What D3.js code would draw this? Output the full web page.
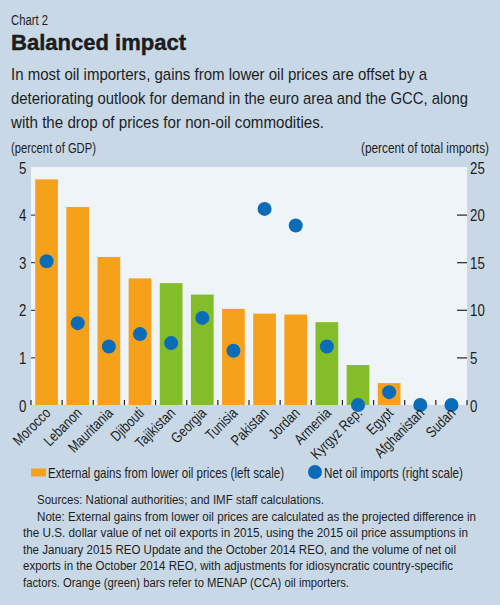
<!DOCTYPE html>
<html>
<head>
<meta charset="utf-8">
<script src="https://cdn.jsdelivr.net/npm/d3@7"></script>
<style>
  body { margin: 0; background: #c8d8e6; }
  svg { display: block; }
  text { font-family: "Liberation Sans", Arial, sans-serif; fill: #1e1e1e; }
</style>
</head>
<body>
<div id="chart"></div>
<script>
// Data
const countries = ["Morocco", "Lebanon", "Mauritania", "Djibouti", "Tajikistan", "Georgia", "Tunisia",
    "Pakistan", "Jordan", "Armenia", "Kyrgyz Rep.", "Egypt", "Afghanistan", "Sudan"];
const gains = [4.74, 4.16, 3.11, 2.66, 2.56, 2.32, 2.02, 1.92, 1.90, 1.74, 0.84, 0.46, 0, 0];
const netImports = [15.1, 8.6, 6.15, 7.45, 6.5, 9.15, 5.7, 20.6, 18.85, 6.15, 0, 1.35, 0, 0];
const region = ["MENAP", "MENAP", "MENAP", "MENAP", "CCA", "CCA", "MENAP",
    "MENAP", "MENAP", "CCA", "CCA", "MENAP", "MENAP", "MENAP"];
const leftTicks = [0, 1, 2, 3, 4, 5];
const rightTicks = [0, 5, 10, 15, 20, 25];

const subtitle = [
    "In most oil importers, gains from lower oil prices are offset by a",
    "deteriorating outlook for demand in the euro area and the GCC, along",
    "with the drop of prices for non-oil commodities."
];
const subtitleWidths = [416, 457, 313];
const notes = [
    "Sources: National authorities; and IMF staff calculations.",
    "Note: External  gains from lower oil prices are calculated as the projected difference in",
    "the U.S. dollar value of net oil exports in 2015, using the 2015 oil price assumptions in",
    "the January 2015 REO Update and the October 2014 REO, and the volume of net oil",
    "exports in the October 2014 REO, with adjustments for idiosyncratic country-specific",
    "factors. Orange (green) bars refer to MENAP (CCA) oil importers."
];
const noteWidths = [287, 439, 445, 433, 430, 326];

const W = 500, H = 605;
const margin = { top: 167, right: 33, bottom: 200, left: 31 };
const width = W - margin.left - margin.right,
    height = H - margin.top - margin.bottom;

// squeeze a text to a measured width, like the condensed face of the original
function fit(sel, len) {
    sel.attr("textLength", len).attr("lengthAdjust", "spacingAndGlyphs");
}

const svg = d3.select("#chart").append("svg")
    .attr("width", W)
    .attr("height", H);

svg.append("rect").attr("width", W).attr("height", H).attr("fill", "#c8d8e6");

// Header
svg.append("text").attr("x", 11).attr("y", 25)
    .style("font-size", "14px").text("Chart 2").call(fit, 37);
svg.append("text").attr("x", 11).attr("y", 50)
    .style("font-weight", "bold").style("font-size", "22.5px")
    .style("stroke", "#111").style("stroke-width", 0.4)
    .text("Balanced impact").call(fit, 175);
svg.append("g").selectAll("text")
    .data(subtitle).enter().append("text")
    .attr("x", 11).attr("y", (d, i) => 80 + i * 24)
    .style("font-size", "17px")
    .text(d => d)
    .each(function (d, i) { d3.select(this).call(fit, subtitleWidths[i]); });

svg.append("text").attr("x", 11).attr("y", 153)
    .style("font-size", "14px").text("(percent of GDP)").call(fit, 85);
svg.append("text").attr("x", 361).attr("y", 153)
    .style("font-size", "14px").text("(percent of total imports)").call(fit, 128);

const g = svg.append("g")
    .attr("transform", `translate(${margin.left},${margin.top})`);

g.append("rect").attr("width", width).attr("height", height).attr("fill", "#eff4f9");

const x = d3.scaleBand()
    .domain(countries)
    .range([0, width])
    .paddingInner(0.27)
    .paddingOuter(0.135);

const xEdges = d3.scaleLinear().domain([0, countries.length]).range([0, width]);

const y = d3.scaleLinear().domain([0, 5]).range([height, 0]);
const y2 = d3.scaleLinear().domain([0, 25]).range([height, 0]);

// Bars
g.selectAll(".bar")
    .data(countries)
    .enter().append("rect")
    .attr("class", "bar")
    .attr("x", d => x(d))
    .attr("y", (d, i) => y(gains[i]))
    .attr("width", x.bandwidth())
    .attr("height", (d, i) => height - y(gains[i]))
    .attr("fill", (d, i) => region[i] === "CCA" ? "#84bd2a" : "#f6a11b");

// Bottom category ticks
g.selectAll(".xtick")
    .data(d3.range(countries.length + 1))
    .enter().append("line")
    .attr("x1", d => xEdges(d)).attr("x2", d => xEdges(d))
    .attr("y1", height - 5).attr("y2", height)
    .attr("stroke", "#222").attr("stroke-width", 1.2);

// Dots
g.selectAll(".dot")
    .data(countries)
    .enter().append("circle")
    .attr("cx", d => x(d) + x.bandwidth() / 2)
    .attr("cy", (d, i) => y2(netImports[i]))
    .attr("r", 7)
    .attr("fill", "#0b6db7");

// Left axis
const leftAxis = g.append("g")
    .call(d3.axisLeft(y).tickValues(leftTicks).tickFormat(d3.format("d")).tickSize(-4).tickPadding(6));
leftAxis.select(".domain").remove();
leftAxis.selectAll(".tick line").attr("stroke", "#222");
leftAxis.selectAll(".tick text")
    .style("font-size", "17px").style("font-family", "Liberation Sans, sans-serif")
    .attr("fill", "#1e1e1e").attr("dy", "0.36em")
    .attr("transform", "scale(0.78,1)");
leftAxis.selectAll(".tick").filter(d => d === 0 || d === 5).select("line").remove();

// Right axis
const rightAxis = g.append("g")
    .attr("transform", `translate(${width},0)`)
    .call(d3.axisRight(y2).tickValues(rightTicks).tickSize(-10).tickPadding(4));
rightAxis.select(".domain").remove();
rightAxis.selectAll(".tick line").attr("stroke", "#222").attr("stroke-width", 1.2);
rightAxis.selectAll(".tick text")
    .style("font-size", "17px").style("font-family", "Liberation Sans, sans-serif")
    .attr("fill", "#1e1e1e").attr("dy", "0.36em")
    .attr("transform", "scale(0.78,1)");
rightAxis.selectAll(".tick").filter(d => d === 0 || d === 25).select("line").remove();

// Category labels
g.selectAll(".xlabel")
    .data(countries)
    .enter().append("text")
    .attr("text-anchor", "end")
    .attr("transform", d => `translate(${x(d) + x.bandwidth() / 2 + 5},${height + 9}) rotate(-45) scale(0.8,1)`)
    .style("font-size", "15px")
    .text(d => d);

// Legend
const lg = svg.append("g").attr("transform", "translate(0,472)");
lg.append("rect").attr("x", 31).attr("y", -3.5).attr("width", 15).attr("height", 8).attr("fill", "#f6a11b");
lg.append("text").attr("x", 48).attr("y", 5.5).style("font-size", "15px")
    .text("External gains from lower oil prices (left scale)").call(fit, 236);
lg.append("circle").attr("cx", 315).attr("cy", 0).attr("r", 7).attr("fill", "#0b6db7");
lg.append("text").attr("x", 324).attr("y", 5.5).style("font-size", "15px")
    .text("Net oil imports (right scale)").call(fit, 139);

// Sources and notes
svg.append("g").selectAll("text")
    .data(notes).enter().append("text")
    .attr("x", (d, i) => i < 2 ? 37 : 23)
    .attr("y", (d, i) => 504 + i * 16.5)
    .style("font-size", "12.5px")
    .text(d => d)
    .each(function (d, i) { d3.select(this).call(fit, noteWidths[i]); });
</script>
</body>
</html>
